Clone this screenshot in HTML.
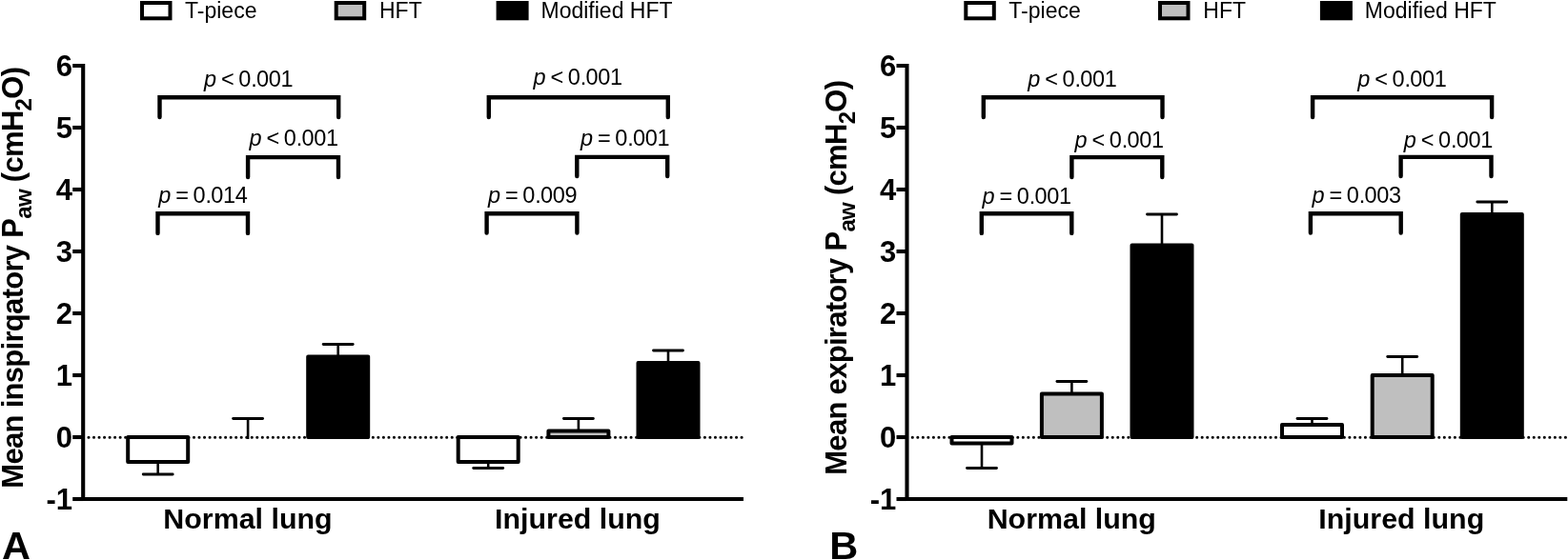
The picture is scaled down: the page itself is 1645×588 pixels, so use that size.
<!DOCTYPE html>
<html><head><meta charset="utf-8"><title>Mean airway pressure</title>
<style>
html,body{margin:0;padding:0;background:#fff;}
svg{display:block;}
text{font-family:"Liberation Sans",Arial,Helvetica,sans-serif;fill:#000;}
.pv{font-size:23.5px;}
.lg{font-size:23px;}
.tk{font-size:31px;font-weight:bold;}
.yl{font-size:31px;font-weight:bold;letter-spacing:-0.7px;}
.sub{font-size:24px;}
.xl{font-size:30.4px;font-weight:bold;}
.let{font-size:41.5px;font-weight:bold;}
</style></head>
<body>
<svg width="1645" height="588" viewBox="0 0 1645 588">
<rect width="1645" height="588" fill="#fff"/>
<g transform="translate(0,0)">
<rect x="149" y="3" width="29.5" height="16.3" fill="#fff" stroke="#000" stroke-width="4"/>
<text x="194" y="19.1" class="lg">T-piece</text>
<rect x="352.7" y="3" width="29.5" height="16.3" fill="#bfbfbf" stroke="#000" stroke-width="4"/>
<text x="398" y="19.1" class="lg">HFT</text>
<rect x="522.6" y="3" width="30" height="16.3" fill="#000" stroke="#000" stroke-width="4"/>
<text x="567.5" y="19.1" class="lg">Modified HFT</text>
<line x1="93.0" y1="459.25" x2="780" y2="459.25" stroke="#000" stroke-width="3.1" stroke-dasharray="0 5.525" stroke-linecap="round"/>
<rect x="134.20" y="459.00" width="63.00" height="26.00" fill="#fff" stroke="#000" stroke-width="4.0" stroke-linejoin="round"/>
<line x1="165.70" y1="485.00" x2="165.70" y2="498.00" stroke="#000" stroke-width="2.6"/>
<line x1="150.20" y1="498.00" x2="181.20" y2="498.00" stroke="#000" stroke-width="2.8" stroke-linecap="round"/>
<rect x="228.60" y="459.00" width="63.00" height="0.00" fill="#bfbfbf" stroke="#000" stroke-width="4.0" stroke-linejoin="round"/>
<line x1="260.10" y1="461.00" x2="260.10" y2="439.50" stroke="#000" stroke-width="2.6"/>
<line x1="244.60" y1="439.50" x2="275.60" y2="439.50" stroke="#000" stroke-width="2.8" stroke-linecap="round"/>
<rect x="323.20" y="374.50" width="63.00" height="84.50" fill="#000" stroke="#000" stroke-width="4.0" stroke-linejoin="round"/>
<line x1="354.70" y1="374.50" x2="354.70" y2="361.50" stroke="#000" stroke-width="2.6"/>
<line x1="339.20" y1="361.50" x2="370.20" y2="361.50" stroke="#000" stroke-width="2.8" stroke-linecap="round"/>
<rect x="480.70" y="459.00" width="63.00" height="26.00" fill="#fff" stroke="#000" stroke-width="4.0" stroke-linejoin="round"/>
<line x1="512.20" y1="485.00" x2="512.20" y2="491.50" stroke="#000" stroke-width="2.6"/>
<line x1="496.70" y1="491.50" x2="527.70" y2="491.50" stroke="#000" stroke-width="2.8" stroke-linecap="round"/>
<rect x="575.40" y="452.50" width="63.00" height="6.50" fill="#bfbfbf" stroke="#000" stroke-width="4.0" stroke-linejoin="round"/>
<line x1="606.90" y1="452.50" x2="606.90" y2="439.50" stroke="#000" stroke-width="2.6"/>
<line x1="591.40" y1="439.50" x2="622.40" y2="439.50" stroke="#000" stroke-width="2.8" stroke-linecap="round"/>
<rect x="669.50" y="381.00" width="63.00" height="78.00" fill="#000" stroke="#000" stroke-width="4.0" stroke-linejoin="round"/>
<line x1="701.00" y1="381.00" x2="701.00" y2="368.00" stroke="#000" stroke-width="2.6"/>
<line x1="685.50" y1="368.00" x2="716.50" y2="368.00" stroke="#000" stroke-width="2.8" stroke-linecap="round"/>
<path d="M76.2 69H87.2V524H780" fill="none" stroke="#000" stroke-width="4.1" stroke-linejoin="miter"/>
<line x1="76.2" y1="524.0" x2="87.2" y2="524.0" stroke="#000" stroke-width="4.1"/>
<line x1="76.2" y1="459.0" x2="87.2" y2="459.0" stroke="#000" stroke-width="4.1"/>
<line x1="76.2" y1="394.0" x2="87.2" y2="394.0" stroke="#000" stroke-width="4.1"/>
<line x1="76.2" y1="329.0" x2="87.2" y2="329.0" stroke="#000" stroke-width="4.1"/>
<line x1="76.2" y1="264.0" x2="87.2" y2="264.0" stroke="#000" stroke-width="4.1"/>
<line x1="76.2" y1="199.0" x2="87.2" y2="199.0" stroke="#000" stroke-width="4.1"/>
<line x1="76.2" y1="134.0" x2="87.2" y2="134.0" stroke="#000" stroke-width="4.1"/>
<text x="76" y="535.00" class="tk" text-anchor="end">-1</text>
<text x="76" y="470.00" class="tk" text-anchor="end">0</text>
<text x="76" y="405.00" class="tk" text-anchor="end">1</text>
<text x="76" y="340.00" class="tk" text-anchor="end">2</text>
<text x="76" y="275.00" class="tk" text-anchor="end">3</text>
<text x="76" y="210.00" class="tk" text-anchor="end">4</text>
<text x="76" y="145.00" class="tk" text-anchor="end">5</text>
<text x="76" y="80.00" class="tk" text-anchor="end">6</text>
<text transform="translate(23.8,291.7) rotate(-90)" class="yl" text-anchor="middle">Mean inspirqatory P<tspan class="sub" dy="9">aw</tspan><tspan dy="-9"> (cmH</tspan><tspan class="sub" dy="9">2</tspan><tspan dy="-9">O)</tspan></text>
<text x="260" y="555.2" class="xl" text-anchor="middle">Normal lung</text>
<text x="606" y="555.2" class="xl" text-anchor="middle">Injured lung</text>
<path d="M167.50 123.00V102.30H355.20V123.00" fill="none" stroke="#000" stroke-width="4.4" stroke-linecap="round" stroke-linejoin="miter"/>
<path d="M260.10 186.00V165.10H355.00V186.00" fill="none" stroke="#000" stroke-width="4.4" stroke-linecap="round" stroke-linejoin="miter"/>
<path d="M165.50 244.90V224.20H260.00V244.90" fill="none" stroke="#000" stroke-width="4.4" stroke-linecap="round" stroke-linejoin="miter"/>
<path d="M512.80 123.00V102.30H700.80V123.00" fill="none" stroke="#000" stroke-width="4.4" stroke-linecap="round" stroke-linejoin="miter"/>
<path d="M605.30 185.00V164.90H700.20V185.00" fill="none" stroke="#000" stroke-width="4.4" stroke-linecap="round" stroke-linejoin="miter"/>
<path d="M510.60 244.60V224.30H605.40V244.60" fill="none" stroke="#000" stroke-width="4.4" stroke-linecap="round" stroke-linejoin="miter"/>
<text x="1.9" y="586.6" class="let">A</text>
</g>
<g transform="translate(864.3,0)">
<rect x="149" y="3" width="29.5" height="16.3" fill="#fff" stroke="#000" stroke-width="4"/>
<text x="194" y="19.1" class="lg">T-piece</text>
<rect x="352.7" y="3" width="29.5" height="16.3" fill="#bfbfbf" stroke="#000" stroke-width="4"/>
<text x="398" y="19.1" class="lg">HFT</text>
<rect x="522.6" y="3" width="30" height="16.3" fill="#000" stroke="#000" stroke-width="4"/>
<text x="567.5" y="19.1" class="lg">Modified HFT</text>
<line x1="93.0" y1="459.25" x2="780" y2="459.25" stroke="#000" stroke-width="3.1" stroke-dasharray="0 5.525" stroke-linecap="round"/>
<rect x="134.20" y="459.00" width="63.00" height="6.50" fill="#fff" stroke="#000" stroke-width="4.0" stroke-linejoin="round"/>
<line x1="165.70" y1="465.50" x2="165.70" y2="491.50" stroke="#000" stroke-width="2.6"/>
<line x1="150.20" y1="491.50" x2="181.20" y2="491.50" stroke="#000" stroke-width="2.8" stroke-linecap="round"/>
<rect x="228.60" y="413.50" width="63.00" height="45.50" fill="#bfbfbf" stroke="#000" stroke-width="4.0" stroke-linejoin="round"/>
<line x1="260.10" y1="413.50" x2="260.10" y2="400.50" stroke="#000" stroke-width="2.6"/>
<line x1="244.60" y1="400.50" x2="275.60" y2="400.50" stroke="#000" stroke-width="2.8" stroke-linecap="round"/>
<rect x="323.20" y="257.50" width="63.00" height="201.50" fill="#000" stroke="#000" stroke-width="4.0" stroke-linejoin="round"/>
<line x1="354.70" y1="257.50" x2="354.70" y2="225.00" stroke="#000" stroke-width="2.6"/>
<line x1="339.20" y1="225.00" x2="370.20" y2="225.00" stroke="#000" stroke-width="2.8" stroke-linecap="round"/>
<rect x="480.70" y="446.00" width="63.00" height="13.00" fill="#fff" stroke="#000" stroke-width="4.0" stroke-linejoin="round"/>
<line x1="512.20" y1="446.00" x2="512.20" y2="439.50" stroke="#000" stroke-width="2.6"/>
<line x1="496.70" y1="439.50" x2="527.70" y2="439.50" stroke="#000" stroke-width="2.8" stroke-linecap="round"/>
<rect x="575.40" y="394.00" width="63.00" height="65.00" fill="#bfbfbf" stroke="#000" stroke-width="4.0" stroke-linejoin="round"/>
<line x1="606.90" y1="394.00" x2="606.90" y2="374.50" stroke="#000" stroke-width="2.6"/>
<line x1="591.40" y1="374.50" x2="622.40" y2="374.50" stroke="#000" stroke-width="2.8" stroke-linecap="round"/>
<rect x="669.50" y="225.00" width="63.00" height="234.00" fill="#000" stroke="#000" stroke-width="4.0" stroke-linejoin="round"/>
<line x1="701.00" y1="225.00" x2="701.00" y2="212.00" stroke="#000" stroke-width="2.6"/>
<line x1="685.50" y1="212.00" x2="716.50" y2="212.00" stroke="#000" stroke-width="2.8" stroke-linecap="round"/>
<path d="M76.2 69H87.2V524H780" fill="none" stroke="#000" stroke-width="4.1" stroke-linejoin="miter"/>
<line x1="76.2" y1="524.0" x2="87.2" y2="524.0" stroke="#000" stroke-width="4.1"/>
<line x1="76.2" y1="459.0" x2="87.2" y2="459.0" stroke="#000" stroke-width="4.1"/>
<line x1="76.2" y1="394.0" x2="87.2" y2="394.0" stroke="#000" stroke-width="4.1"/>
<line x1="76.2" y1="329.0" x2="87.2" y2="329.0" stroke="#000" stroke-width="4.1"/>
<line x1="76.2" y1="264.0" x2="87.2" y2="264.0" stroke="#000" stroke-width="4.1"/>
<line x1="76.2" y1="199.0" x2="87.2" y2="199.0" stroke="#000" stroke-width="4.1"/>
<line x1="76.2" y1="134.0" x2="87.2" y2="134.0" stroke="#000" stroke-width="4.1"/>
<text x="76" y="535.00" class="tk" text-anchor="end">-1</text>
<text x="76" y="470.00" class="tk" text-anchor="end">0</text>
<text x="76" y="405.00" class="tk" text-anchor="end">1</text>
<text x="76" y="340.00" class="tk" text-anchor="end">2</text>
<text x="76" y="275.00" class="tk" text-anchor="end">3</text>
<text x="76" y="210.00" class="tk" text-anchor="end">4</text>
<text x="76" y="145.00" class="tk" text-anchor="end">5</text>
<text x="76" y="80.00" class="tk" text-anchor="end">6</text>
<text transform="translate(23.8,291.7) rotate(-90)" class="yl" text-anchor="middle">Mean expiratory P<tspan class="sub" dy="9">aw</tspan><tspan dy="-9"> (cmH</tspan><tspan class="sub" dy="9">2</tspan><tspan dy="-9">O)</tspan></text>
<text x="260" y="555.2" class="xl" text-anchor="middle">Normal lung</text>
<text x="606" y="555.2" class="xl" text-anchor="middle">Injured lung</text>
<path d="M167.50 123.00V102.30H355.20V123.00" fill="none" stroke="#000" stroke-width="4.4" stroke-linecap="round" stroke-linejoin="miter"/>
<path d="M260.10 186.00V165.10H355.00V186.00" fill="none" stroke="#000" stroke-width="4.4" stroke-linecap="round" stroke-linejoin="miter"/>
<path d="M165.50 244.90V224.20H260.00V244.90" fill="none" stroke="#000" stroke-width="4.4" stroke-linecap="round" stroke-linejoin="miter"/>
<path d="M512.80 123.00V102.30H700.80V123.00" fill="none" stroke="#000" stroke-width="4.4" stroke-linecap="round" stroke-linejoin="miter"/>
<path d="M605.30 185.00V164.90H700.20V185.00" fill="none" stroke="#000" stroke-width="4.4" stroke-linecap="round" stroke-linejoin="miter"/>
<path d="M510.60 244.60V224.30H605.40V244.60" fill="none" stroke="#000" stroke-width="4.4" stroke-linecap="round" stroke-linejoin="miter"/>
<text x="6.0" y="586.6" class="let">B</text>
</g>
<text y="91.10" class="pv"><tspan x="213.99" font-style="italic">p</tspan><tspan x="227.06 231.94 245.64 250.24 263.14 268.89 281.69 294.49"> &lt; 0.001</tspan></text>
<text y="153.10" class="pv"><tspan x="261.59" font-style="italic">p</tspan><tspan x="274.66 279.54 293.24 297.84 310.74 316.49 329.29 342.09"> &lt; 0.001</tspan></text>
<text y="213.40" class="pv"><tspan x="166.29" font-style="italic">p</tspan><tspan x="179.36 184.24 197.94 202.54 215.44 221.19 233.99 246.79"> = 0.014</tspan></text>
<text y="89.30" class="pv"><tspan x="559.59" font-style="italic">p</tspan><tspan x="572.66 577.54 591.24 595.84 608.74 614.49 627.29 640.09"> &lt; 0.001</tspan></text>
<text y="152.70" class="pv"><tspan x="608.99" font-style="italic">p</tspan><tspan x="622.06 626.94 640.64 645.24 658.14 663.89 676.69 689.49"> = 0.001</tspan></text>
<text y="213.30" class="pv"><tspan x="511.99" font-style="italic">p</tspan><tspan x="525.06 529.94 543.64 548.24 561.14 566.89 579.69 592.49"> = 0.009</tspan></text>
<text y="91.10" class="pv"><tspan x="1078.29" font-style="italic">p</tspan><tspan x="1091.36 1096.24 1109.94 1114.54 1127.44 1133.19 1145.99 1158.79"> &lt; 0.001</tspan></text>
<text y="154.90" class="pv"><tspan x="1127.59" font-style="italic">p</tspan><tspan x="1140.66 1145.54 1159.24 1163.84 1176.74 1182.49 1195.29 1208.09"> &lt; 0.001</tspan></text>
<text y="213.50" class="pv"><tspan x="1030.59" font-style="italic">p</tspan><tspan x="1043.66 1048.54 1062.24 1066.84 1079.74 1085.49 1098.29 1111.09"> = 0.001</tspan></text>
<text y="91.10" class="pv"><tspan x="1424.29" font-style="italic">p</tspan><tspan x="1437.36 1442.24 1455.94 1460.54 1473.44 1479.19 1491.99 1504.79"> &lt; 0.001</tspan></text>
<text y="154.90" class="pv"><tspan x="1472.79" font-style="italic">p</tspan><tspan x="1485.86 1490.74 1504.44 1509.04 1521.94 1527.69 1540.49 1553.29"> &lt; 0.001</tspan></text>
<text y="213.40" class="pv"><tspan x="1376.49" font-style="italic">p</tspan><tspan x="1389.56 1394.44 1408.14 1412.74 1425.64 1431.39 1444.19 1456.99"> = 0.003</tspan></text>
</svg>
</body></html>
